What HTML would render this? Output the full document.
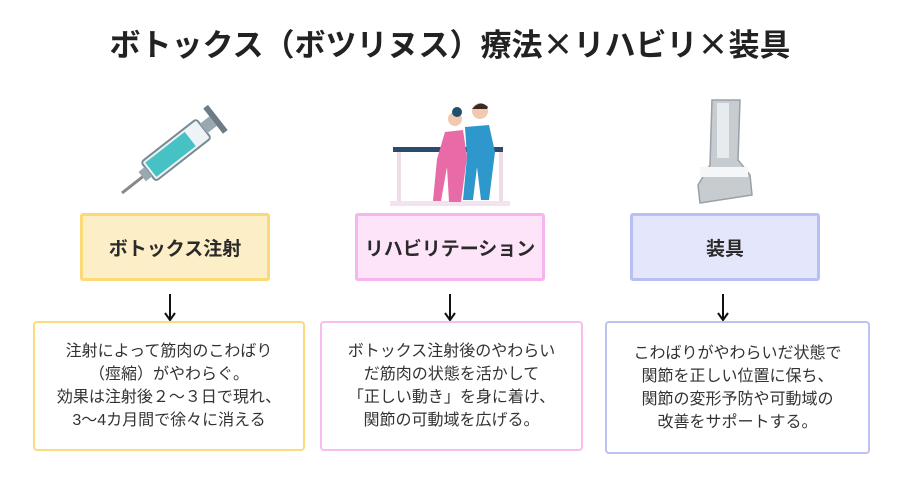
<!DOCTYPE html>
<html><head><meta charset="utf-8"><style>
body{margin:0;width:900px;height:500px;background:#fff;font-family:"Liberation Sans","Noto Sans CJK JP",sans-serif;color:#222;position:relative;overflow:hidden}
.t{position:absolute;left:0;width:900px;top:22px;text-align:center;font-size:31px;line-height:42px;font-weight:bold;color:#222;font-family:"Noto Sans CJK JP",sans-serif}
.lb{position:absolute;top:213px;height:68px;display:flex;align-items:center;justify-content:center;font-size:19px;font-weight:bold;box-sizing:border-box;border-radius:3px;color:#2a2a2a}
.ar{position:absolute;top:292px}
.tx{position:absolute;top:321px;height:130px;box-sizing:border-box;border:2px solid;border-radius:4px;display:flex;align-items:center;justify-content:center;text-align:center;font-size:16px;line-height:23px;color:#333}
</style></head><body>
<div class="t">ボトックス（ボツリヌス）療法×リハビリ×装具</div>

<svg style="position:absolute;left:110px;top:95px" width="140" height="105" viewBox="0 0 140 105">
<line x1="12" y1="98" x2="40" y2="76" stroke="#888" stroke-width="3"/>
<g transform="rotate(-38 70 52)">
<rect x="30" y="40" width="70" height="24" rx="3" fill="#eef3f5" stroke="#7a8a94" stroke-width="2"/>
<rect x="33" y="43" width="50" height="18" fill="#46c2c5"/>
<rect x="100" y="46" width="12" height="12" fill="#9aa8b0"/>
<rect x="112" y="36" width="6" height="32" fill="#6c7c86"/>
<rect x="22" y="46" width="8" height="12" fill="#9aa8b0"/>
</g></svg>

<svg style="position:absolute;left:385px;top:97px" width="130" height="112" viewBox="0 0 130 112">
<rect x="8" y="50" width="110" height="5" fill="#2c4a6b"/>
<rect x="12" y="55" width="4" height="52" fill="#f0dbe8"/><rect x="114" y="55" width="4" height="52" fill="#f0dbe8"/>
<rect x="5" y="104" width="120" height="5" fill="#f3e3ee"/>
<path d="M60 35 L78 33 L82 60 L76 105 L64 105 L62 70 L56 104 L48 104 L52 62 Z" fill="#e86aa6"/>
<circle cx="70" cy="22" r="7" fill="#f2c9b0"/><circle cx="72" cy="15" r="5" fill="#20506a"/>
<path d="M80 30 L104 28 L110 55 L104 103 L96 103 L92 70 L88 103 L78 103 L82 60 Z" fill="#2e97cc"/>
<circle cx="95" cy="14" r="8" fill="#f2c9b0"/><path d="M87 12 Q95 2 103 10 L102 12 Z" fill="#3a2a22"/>
</svg>

<svg style="position:absolute;left:690px;top:95px" width="70" height="112" viewBox="0 0 70 112">
<path d="M22 5 L50 5 L48 65 L60 80 L62 100 L10 108 L8 90 L20 70 Z" fill="#c7ccd1" stroke="#9aa0a6" stroke-width="1.5"/>
<rect x="27" y="8" width="12" height="55" fill="#e8ebee"/>
<rect x="10" y="72" width="48" height="10" fill="#f4f6f7"/>
</svg>

<div class="lb" style="left:80px;width:190px;background:#fcefc8;border:3px solid #fcd977">ボトックス注射</div>
<div class="lb" style="left:355px;width:190px;background:#fde4f8;border:3px solid #f6b5ec">リハビリテーション</div>
<div class="lb" style="left:630px;width:190px;background:#e4e7fb;border:3px solid #b8bff3">装具</div>

<svg class="ar" style="left:163px" width="14" height="30"><line x1="7" y1="2" x2="7" y2="27" stroke="#111" stroke-width="2"/><path d="M2 21 L7 28 L12 21" fill="none" stroke="#111" stroke-width="2"/></svg>
<svg class="ar" style="left:443px" width="14" height="30"><line x1="7" y1="2" x2="7" y2="27" stroke="#111" stroke-width="2"/><path d="M2 21 L7 28 L12 21" fill="none" stroke="#111" stroke-width="2"/></svg>
<svg class="ar" style="left:716px" width="14" height="30"><line x1="7" y1="2" x2="7" y2="27" stroke="#111" stroke-width="2"/><path d="M2 21 L7 28 L12 21" fill="none" stroke="#111" stroke-width="2"/></svg>

<div class="tx" style="left:33px;width:272px;border-color:#fddb7c">注射によって筋肉のこわばり<br>（痙縮）がやわらぐ。<br>効果は注射後２～３日で現れ、<br>3～4カ月間で徐々に消える</div>
<div class="tx" style="left:320px;width:263px;border-color:#f6bdee">ボトックス注射後のやわらい<br>だ筋肉の状態を活かして<br>「正しい動き」を身に着け、<br>関節の可動域を広げる。</div>
<div class="tx" style="left:605px;width:265px;height:133px;border-color:#bcc2f2">こわばりがやわらいだ状態で<br>関節を正しい位置に保ち、<br>関節の変形予防や可動域の<br>改善をサポートする。</div>
</body></html>
